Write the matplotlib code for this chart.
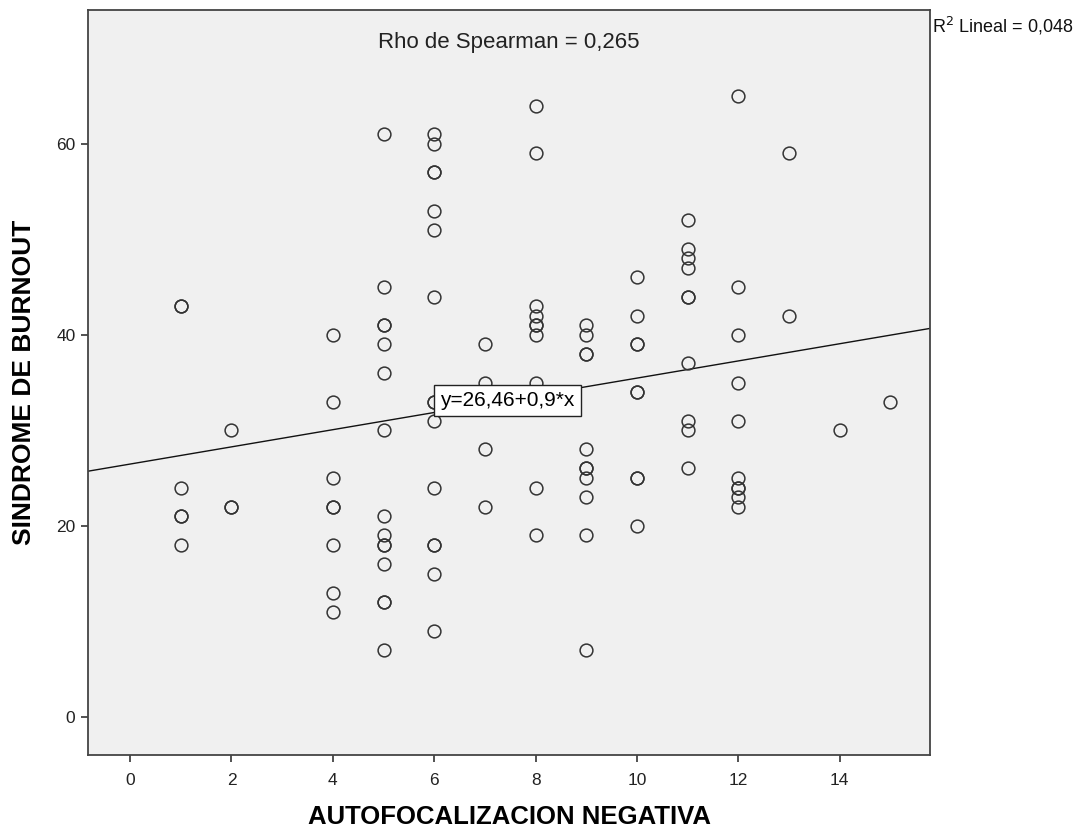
#!/usr/bin/env python3
"""SPSS-style scatter: autofocalizacion negativa vs sindrome de burnout."""

import matplotlib
matplotlib.use("Agg")
import matplotlib.pyplot as plt
import numpy as np

plt.rcParams["font.family"] = ["Liberation Sans", "DejaVu Sans"]

# x value of each column and the burnout scores observed in that column
x_levels = [1, 2, 4, 5, 6, 7, 8, 9, 10, 11, 12, 13, 14, 15]
burnout_by_level = [
    [43, 43, 24, 21, 21, 18],
    [30, 22, 22],
    [40, 33, 25, 22, 22, 18, 13, 11],
    [61, 45, 41, 41, 39, 36, 30, 21, 19, 18, 18, 16, 12, 12, 7],
    [61, 60, 57, 57, 53, 51, 44, 33, 33, 31, 24, 18, 18, 15, 9],
    [39, 35, 28, 22],
    [64, 59, 43, 42, 41, 41, 40, 35, 24, 19],
    [41, 40, 38, 38, 28, 26, 26, 25, 23, 19, 7],
    [46, 42, 39, 39, 34, 34, 25, 25, 20],
    [52, 49, 48, 47, 44, 44, 37, 31, 30, 26],
    [65, 45, 40, 35, 31, 25, 24, 24, 23, 22],
    [59, 42],
    [30],
    [33],
]

fit_intercept = 26.46
fit_slope = 0.9
rho_label = "Rho de Spearman = 0,265"
r2_label = "R$^2$ Lineal = 0,048"
fit_label = "y=26,46+0,9*x"

x_ticks = [0, 2, 4, 6, 8, 10, 12, 14]
y_ticks = [0, 20, 40, 60]


def main():
    xs = np.concatenate([[x] * len(ys) for x, ys in zip(x_levels, burnout_by_level)])
    ys = np.concatenate([np.array(v, dtype=float) for v in burnout_by_level])

    fig = plt.figure(figsize=(10.84, 8.34), dpi=100)
    ax = fig.add_axes([88 / 1084, 79 / 834, 842 / 1084, 745 / 834])
    ax.set_facecolor("#f0f0f0")

    xlim = (-0.83, 15.78)
    ax.set_xlim(*xlim)
    ax.set_ylim(-4, 74)

    ax.plot(xs, ys, linestyle="none", marker="o", markersize=9.2,
            markerfacecolor="none", markeredgecolor="#333333",
            markeredgewidth=1.1, zorder=3)

    # fitted line across the full plot width
    lx = np.array(xlim)
    ax.plot(lx, fit_intercept + fit_slope * lx, color="#111111", lw=1.0, zorder=2)

    ax.text(6.12, 33.1, fit_label, fontsize=15, ha="left", va="center",
            zorder=4,
            bbox=dict(boxstyle="square,pad=0.3", facecolor="white",
                      edgecolor="#222222", linewidth=1.0))

    ax.text(0.5, 0.949, rho_label, transform=ax.transAxes, fontsize=16,
            ha="center", va="baseline", color="#222222")
    ax.text(1.002, 0.994, r2_label, transform=ax.transAxes, fontsize=13,
            ha="left", va="top", color="#111111")

    for side in ["left", "right", "top", "bottom"]:
        ax.spines[side].set_color("#444444")
        ax.spines[side].set_linewidth(1.3)

    ax.set_xticks(x_ticks)
    ax.set_yticks(y_ticks)
    ax.tick_params(direction="out", length=5, width=1.2, color="#333333",
                   labelsize=12.5, labelcolor="#222222")
    ax.tick_params(axis="x", pad=8)
    ax.tick_params(axis="y", pad=4)

    ax.set_xlabel("AUTOFOCALIZACION NEGATIVA", fontsize=18.5, fontweight="bold")
    ax.set_ylabel("SINDROME DE BURNOUT", fontsize=19, fontweight="bold")
    ax.xaxis.set_label_coords(0.5, -0.067)
    ax.yaxis.set_label_coords(-0.062, 0.5)

    fig.savefig("out.png", dpi=100, facecolor="white")


if __name__ == "__main__":
    main()
